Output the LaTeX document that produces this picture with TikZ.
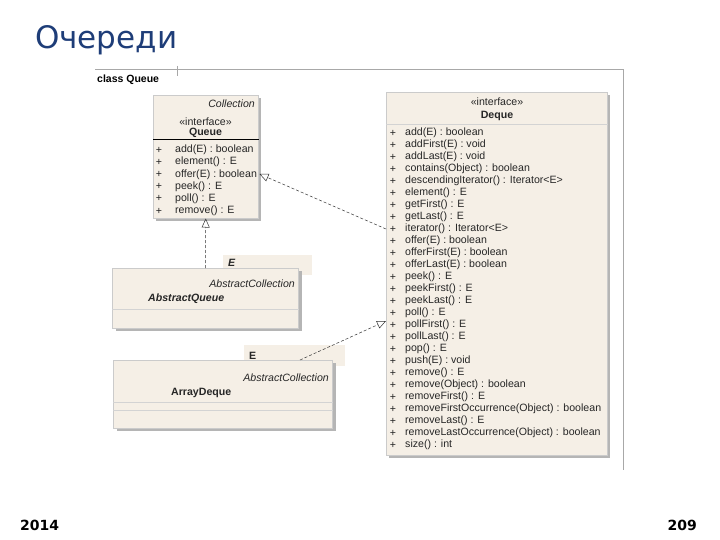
\documentclass[tikz,border=0pt]{standalone}
\usepackage{fontspec}
\setmainfont{Liberation Sans}
\newfontfamily\titlefont{DejaVu Sans}
\usetikzlibrary{arrows.meta,calc}
\definecolor{boxfill}{HTML}{F5EFE6}
\definecolor{boxshadow}{HTML}{B5B5B5}
\definecolor{titleblue}{HTML}{1E3D78}
\definecolor{framegray}{HTML}{A8A8A8}
\begin{document}
\begin{tikzpicture}[x=1pt,y=-1pt,
  umlbox/.style={draw=boxshadow!70, line width=0.5pt, fill=boxfill, anchor=north west, inner sep=0pt},
  shadowbox/.style={fill=boxshadow, draw=none, anchor=north west, inner sep=0pt},
  tmplbox/.style={fill=boxfill, draw=none, anchor=north west, inner sep=0pt},
  umltext/.style={font=\fontsize{10.6}{12}\selectfont, inner sep=0pt, text=black!85},
  plus/.style={umltext, anchor=center},
  meth/.style={umltext, anchor=west},
  realize/.style={draw=black!80, line width=0.5pt, dashed, dash pattern=on 3pt off 2pt, -{Triangle[open, length=9pt, width=8pt]}},
  frameline/.style={draw=framegray, line width=0.8pt}
]
\useasboundingbox (0,0) rectangle (720,540);
\fill[white] (0,0) rectangle (720,540);

% title and footer
\node[anchor=west, inner sep=0pt, text=titleblue, font=\titlefont\fontsize{31}{36}\selectfont] (title) at (35,40) {Очереди};
\node[anchor=west, inner sep=0pt, font=\titlefont\bfseries\fontsize{14}{16}\selectfont] (year) at (20,525) {2014};
\node[anchor=east, inner sep=0pt, font=\titlefont\bfseries\fontsize{14}{16}\selectfont] (page) at (697,525) {209};

% frame
\coordinate (frA) at (95,69);
\coordinate (frB) at (623,69);
\coordinate (frC) at (623,470);
\coordinate (tickA) at (177,66);
\coordinate (tickB) at (177,76);
\draw[frameline] (frA) -- (frB) -- (frC);
\draw[frameline, line width=0.5pt] (tickA) -- (tickB);
\node[anchor=west, inner sep=0pt, font=\bfseries\fontsize{10.5}{12}\selectfont] (framelabel) at (97,80) {class Queue};

% ---------- Queue ----------
\node[shadowbox, minimum width=105pt, minimum height=123pt] (queueSh) at (156,98) {};
\node[umlbox, minimum width=105pt, minimum height=123pt] (queue) at (153,95) {};
\node[umltext, anchor=east, font=\itshape\fontsize{10.6}{12}\selectfont] (queueStereo2) at (255,104) {Collection};
\node[umltext, anchor=center] (queueStereo) at (205.5,122) {«interface»};
\node[umltext, anchor=center, font=\bfseries\fontsize{10.6}{12}\selectfont] (queueName) at (205.5,133) {Queue};
\draw[black, line width=0.7pt] ($(queue.north west)+(0,44)$) -- ($(queue.north east)+(0,44)$);
\foreach \m [count=\i from 0] in {{add(E) : boolean},{element() : E},{offer(E) : boolean},{peek() : E},{poll() : E},{remove() : E}}{
  \node[plus] (qp\i) at (159,150+12.2*\i) {+};
  \node[meth] (qm\i) at (175,150+12.2*\i) {\m};
}

% ---------- Deque ----------
\node[shadowbox, minimum width=221pt, minimum height=363pt] (dequeSh) at (389,95) {};
\node[umlbox, minimum width=221pt, minimum height=363pt] (deque) at (386,92) {};
\node[umltext, anchor=center] (dequeStereo) at (497,102) {«interface»};
\node[umltext, anchor=center, font=\bfseries\fontsize{10.6}{12}\selectfont] (dequeName) at (497,116) {Deque};
\draw[boxshadow!60, line width=0.4pt] ($(deque.north west)+(0,32)$) -- ($(deque.north east)+(0,32)$);
\foreach \m [count=\i from 0] in {{add(E) : boolean},{addFirst(E) : void},{addLast(E) : void},{contains(Object) : boolean},{descendingIterator() : Iterator<E>},{element() : E},{getFirst() : E},{getLast() : E},{iterator() : Iterator<E>},{offer(E) : boolean},{offerFirst(E) : boolean},{offerLast(E) : boolean},{peek() : E},{peekFirst() : E},{peekLast() : E},{poll() : E},{pollFirst() : E},{pollLast() : E},{pop() : E},{push(E) : void},{remove() : E},{remove(Object) : boolean},{removeFirst() : E},{removeFirstOccurrence(Object) : boolean},{removeLast() : E},{removeLastOccurrence(Object) : boolean},{size() : int}}{
  \node[plus] (dp\i) at (393,133+12*\i) {+};
  \node[meth] (dm\i) at (405,133+12*\i) {\m};
}

% ---------- AbstractQueue ----------
\node[tmplbox, minimum width=89pt, minimum height=20pt] (aqT) at (223,255) {};
\node[umltext, anchor=west, font=\bfseries\itshape\fontsize{10.6}{12}\selectfont] (aqE) at (228,263) {E};
\node[shadowbox, minimum width=186pt, minimum height=60pt] (aqSh) at (116,271) {};
\node[umlbox, minimum width=186pt, minimum height=60pt] (aq) at (112,268) {};
\node[umltext, anchor=east, font=\itshape\fontsize{10.6}{12}\selectfont] (aqStereo) at (295,284) {AbstractCollection};
\node[umltext, anchor=west, font=\bfseries\itshape\fontsize{10.6}{12}\selectfont] (aqName) at (148,299) {AbstractQueue};
\draw[boxshadow!60, line width=0.4pt] ($(aq.north west)+(0,41)$) -- ($(aq.north east)+(0,41)$);

% ---------- ArrayDeque ----------
\node[tmplbox, minimum width=101pt, minimum height=21pt] (adT) at (244,345) {};
\node[umltext, anchor=west, font=\bfseries\fontsize{10.6}{12}\selectfont] (adE) at (249,356) {E};
\node[shadowbox, minimum width=219pt, minimum height=68pt] (adSh) at (117,363) {};
\node[umlbox, minimum width=219pt, minimum height=68pt] (ad) at (113,360) {};
\node[umltext, anchor=east, font=\itshape\fontsize{10.6}{12}\selectfont] (adStereo) at (329,378) {AbstractCollection};
\node[umltext, anchor=west, font=\bfseries\fontsize{10.6}{12}\selectfont] (adName) at (171,393) {ArrayDeque};
\draw[boxshadow!60, line width=0.4pt] ($(ad.north west)+(0,42)$) -- ($(ad.north east)+(0,42)$);
\draw[boxshadow!60, line width=0.4pt] ($(ad.north west)+(0,50)$) -- ($(ad.north east)+(0,50)$);

% ---------- connectors ----------
\draw[realize] (aq.north) -- (queue.south);
\draw[realize] ($(deque.north west)+(0,137)$) -- ($(queue.north east)+(1,79)$);
\draw[realize] ($(ad.north west)+(187,0)$) -- ($(deque.north west)+(0,229)$);
\end{tikzpicture}
\end{document}
